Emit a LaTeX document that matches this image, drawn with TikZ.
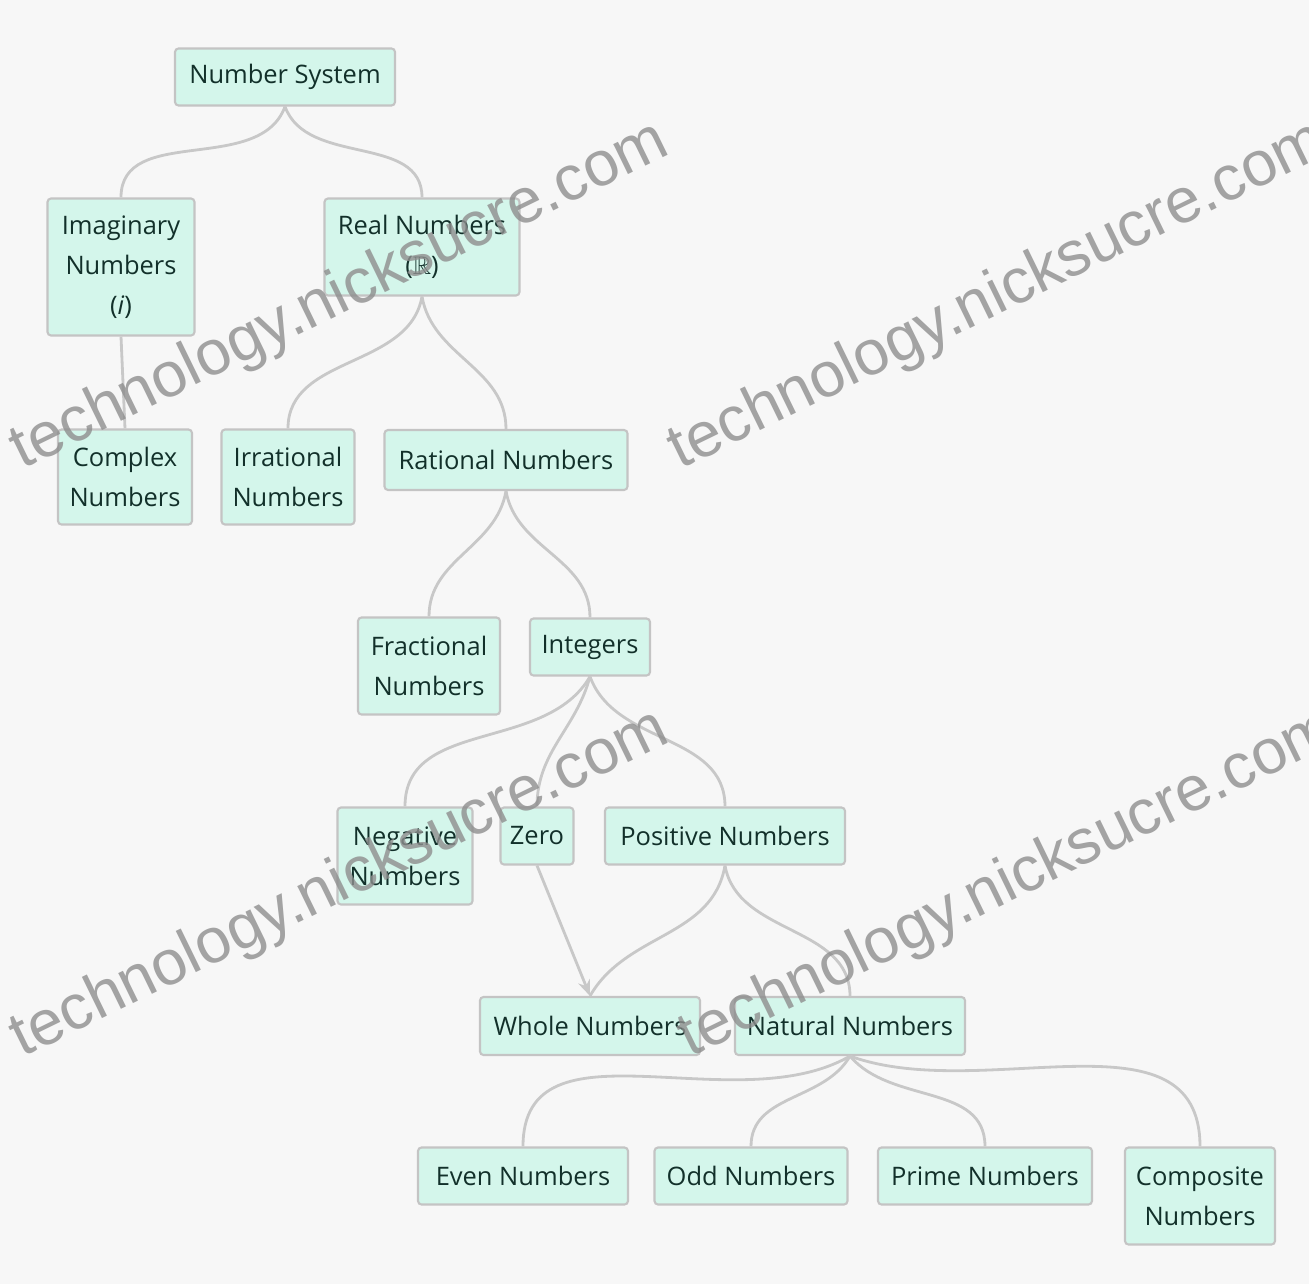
\documentclass[tikz,border=0pt]{standalone}
\usepackage{fontspec}
\usepackage{amssymb}
\setmainfont{Open Sans}
\newfontfamily\wmfont{Liberation Sans}
\usetikzlibrary{arrows.meta}
\definecolor{bgc}{HTML}{F7F7F7}
\definecolor{boxfill}{HTML}{D4F6EB}
\definecolor{boxline}{HTML}{C4C4C4}
\definecolor{txt}{HTML}{12302A}
\definecolor{linec}{HTML}{C8C8C8}
\definecolor{wmark}{HTML}{8E8E8E}
\tikzset{
  nbox/.style 2 args={draw=boxline, line width=1.2pt, fill=boxfill, rounded corners=2pt,
    minimum width=#1*0.02cm, minimum height=#2*0.02cm, align=center, inner sep=2pt,
    text=txt, font=\fontsize{14.5}{22.7}\selectfont},
  conn/.style={draw=linec, line width=1.6pt},
  wm/.style={text=wmark, opacity=0.8, font=\wmfont\fontsize{36}{40}\selectfont, rotate=26, anchor=base west, inner sep=0pt}
}
\begin{document}
\begin{tikzpicture}[x=0.02cm, y=-0.02cm]
\fill[bgc] (0,0) rectangle (1309,1284);
\useasboundingbox (0,0) rectangle (1309,1284);
\clip (0,0) rectangle (1309,1284);
% nodes
\node[nbox={220}{57}] (ns) at (285,77) {Number System};
\node[nbox={147}{137}] (im) at (121,267) {Imaginary\\Numbers\\(\textit{i})};
\node[nbox={195}{97}] (re) at (422,247) {Real Numbers\\($\mathbb{R}$)};
\node[nbox={134}{95}] (co) at (125,477) {Complex\\Numbers};
\node[nbox={133}{95}] (ir) at (288,477) {Irrational\\Numbers};
\node[nbox={243}{60}] (ra) at (506,460) {Rational Numbers};
\node[nbox={142}{97}] (fr) at (429,666) {Fractional\\Numbers};
\node[nbox={120}{57}] (in) at (590,647) {Integers};
\node[nbox={135}{97}] (ne) at (405,856) {Negative\\Numbers};
\node[nbox={73}{57}] (ze) at (537,836) {Zero};
\node[nbox={240}{57}] (po) at (725,836) {Positive Numbers};
\node[nbox={220}{58}] (wh) at (590,1026) {Whole Numbers};
\node[nbox={230}{58}] (na) at (850,1026) {Natural Numbers};
\node[nbox={210}{57}] (ev) at (523,1176) {Even Numbers};
\node[nbox={193}{57}] (od) at (751,1176) {Odd Numbers};
\node[nbox={214}{57}] (pr) at (985,1176) {Prime Numbers};
\node[nbox={150}{97}] (cm) at (1200,1196) {Composite\\Numbers};
% connectors
\draw[conn] (ns.south) to[out=-110,in=90] (im.north);
\draw[conn] (ns.south) to[out=-70,in=90] (re.north);
\draw[conn] (im.south) -- (co.north);
\draw[conn] (re.south) to[out=-100,in=90] (ir.north);
\draw[conn] (re.south) to[out=-80,in=90] (ra.north);
\draw[conn] (ra.south) to[out=-100,in=90] (fr.north);
\draw[conn] (ra.south) to[out=-80,in=90] (in.north);
\draw[conn] (in.south) to[out=-120,in=90] (ne.north);
\draw[conn] (in.south) to[out=-105,in=90] (ze.north);
\draw[conn] (in.south) to[out=-70,in=90] (po.north);
\draw[conn,-{Stealth[length=9pt,width=7pt]}] (ze.south) -- (wh.north);
\draw[conn] (po.south) to[out=-100,in=60] (wh.north);
\draw[conn] (po.south) to[out=-80,in=90] (na.north);
\draw[conn] (na.south) to[out=-150,in=90] (ev.north);
\draw[conn] (na.south) to[out=-120,in=90] (od.north);
\draw[conn] (na.south) to[out=-50,in=90] (pr.north);
\draw[conn] (na.south) to[out=-20,in=90] (cm.north);
% watermarks
\node[wm] (w1) at (22,470) {technology.nicksucre.com};
\node[wm] (w2) at (680,470) {technology.nicksucre.com};
\node[wm] (w3) at (22,1058) {technology.nicksucre.com};
\node[wm] (w4) at (690,1058) {technology.nicksucre.com};
\end{tikzpicture}
\end{document}
